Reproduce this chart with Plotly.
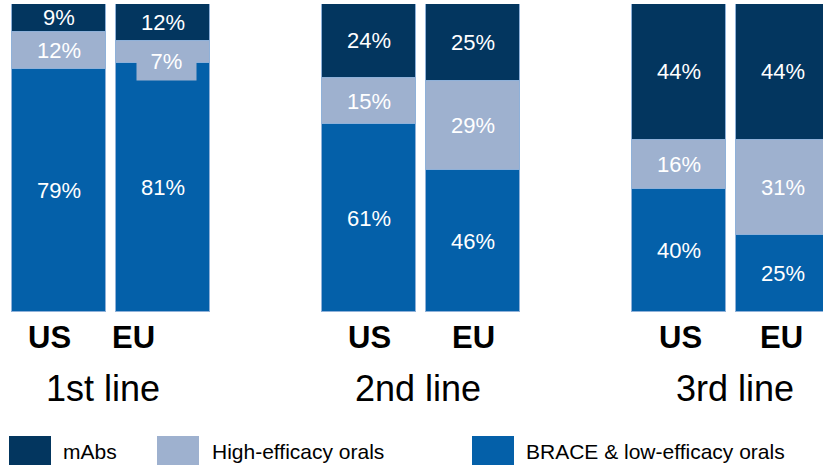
import plotly.graph_objects as go

# Treatment mix by line of therapy, US vs EU (shares in %)
lines = ["1st line", "2nd line", "3rd line"]
regions = ["US", "EU"]
series = ["mAbs", "High-efficacy orals", "BRACE & low-efficacy orals"]
colors = {"mAbs": "#03365F", "High-efficacy orals": "#9EB1CF",
          "BRACE & low-efficacy orals": "#0460A9"}

# values ordered [US 1st, EU 1st, US 2nd, EU 2nd, US 3rd, EU 3rd]
brace_low = [79, 81, 61, 46, 40, 25]
high_oral = [12, 7, 15, 29, 16, 31]
mabs = [9, 12, 24, 25, 44, 44]
stack = [("BRACE & low-efficacy orals", brace_low),
         ("High-efficacy orals", high_oral),
         ("mAbs", mabs)]

W, H = 823, 465
TOP, BOTTOM = 4, 312          # plot area in pixels
BAR_W, GAP, PITCH, FIRST = 94, 10, 310, 59
FONT = "Arial, Liberation Sans, sans-serif"

xs = []
for g in range(len(lines)):
    for r in range(len(regions)):
        xs.append(FIRST + g * PITCH + r * (BAR_W + GAP))


def py(p):
    return (BOTTOM - p) / (BOTTOM - TOP)


def px(p):
    return p / W


fig = go.Figure()
for name, vals in stack:
    fig.add_trace(go.Bar(
        x=xs, y=vals, width=BAR_W, name=name,
        marker=dict(color=colors[name], line=dict(color="#8FB1D9", width=1)),
        showlegend=False, hoverinfo="skip"))

annotations = []
base = [0] * len(xs)
for name, vals in stack:
    for i, v in enumerate(vals):
        mid = base[i] + v / 2
        ann = dict(x=xs[i], y=mid, xref="x", yref="y", text=f"{v}%",
                   showarrow=False, xanchor="center", yanchor="middle",
                   font=dict(family=FONT, size=22, color="white"))
        if name == "High-efficacy orals" and v < 10:
            # small segment: boxed label sitting on the lower boundary
            ann.update(y=base[i], yshift=2, xshift=3, bgcolor=colors[name],
                       width=59, height=38, borderpad=0)
        annotations.append(ann)
        base[i] += v

# region labels under each bar
label_shift = [-10, -30, 0, 0, 1, -2]
for i, x in enumerate(xs):
    annotations.append(dict(x=x, y=py(337), xref="x", yref="paper",
                            text=f"<b>{regions[i % 2]}</b>", showarrow=False,
                            xanchor="center", yanchor="middle",
                            xshift=label_shift[i],
                            font=dict(family=FONT, size=31, color="black")))

# line-of-therapy labels under each pair
line_shift = [-8, -3, 4]
for g, lab in enumerate(lines):
    cx = (xs[2 * g] + xs[2 * g + 1]) / 2
    annotations.append(dict(x=cx, y=py(388), xref="x", yref="paper", text=lab,
                            showarrow=False, xanchor="center", yanchor="middle",
                            xshift=line_shift[g],
                            font=dict(family=FONT, size=36, color="black")))

# legend drawn as swatches + text along the bottom edge
shapes = []
leg_sw = [9, 157, 472]
leg_tx = [61, 210, 524]
for k, name in enumerate(series):
    shapes.append(dict(type="rect", xref="paper", yref="paper",
                       x0=px(leg_sw[k]), x1=px(leg_sw[k] + 42),
                       y0=py(436), y1=py(480),
                       fillcolor=colors[name], line=dict(width=0)))
    annotations.append(dict(x=px(leg_tx[k]), y=py(451), xref="paper", yref="paper",
                            text=name, showarrow=False,
                            xanchor="left", yanchor="middle",
                            font=dict(family=FONT, size=21, color="black")))

fig.update_layout(
    width=W, height=H, barmode="stack", bargap=0,
    margin=dict(l=0, r=0, t=TOP, b=H - BOTTOM, pad=0),
    paper_bgcolor="white", plot_bgcolor="white",
    xaxis=dict(range=[0, W], visible=False, fixedrange=True),
    yaxis=dict(range=[0, 100], visible=False, fixedrange=True),
    annotations=annotations, shapes=shapes,
)

fig.write_html("out.html")
